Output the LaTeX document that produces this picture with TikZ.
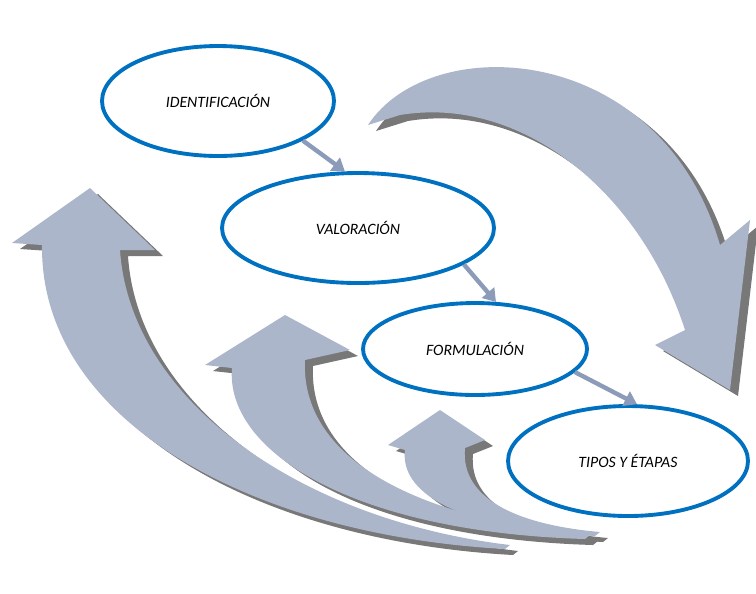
\documentclass[tikz,border=0pt]{standalone}
\usepackage{fontspec}
\setmainfont{Carlito}
\usetikzlibrary{arrows.meta,shapes.geometric}
\definecolor{ringblue}{RGB}{0,112,192}
\definecolor{arrowfill}{RGB}{172,182,202}
\definecolor{shadowgray}{RGB}{120,120,120}
\definecolor{linkblue}{RGB}{140,155,185}
\tikzset{
  stage/.style={ellipse, draw=ringblue, line width=2.2pt, fill=white, font=\itshape\small},
  bigarrow/.style={fill=arrowfill},
  bigshadow/.style={fill=shadowgray},
  link/.style={draw=linkblue, line width=2.5pt, -{Triangle[length=7pt,width=9pt]}}
}
\begin{document}
\begin{tikzpicture}[x=0.02cm,y=-0.02cm]
\useasboundingbox (0,0) rectangle (756,593);
% curved arrows (shadow first, then fill)
\foreach \sty/\dx/\dy in {bigshadow/8/6, bigarrow/0/0}{
  \begin{scope}[shift={(\dx,\dy)}]
  \fill[\sty] (90,188) -- (155,250) -- (120,250)
    .. controls (130,400) and (300,520) .. (510,545)
    -- (505,549) .. controls (250,535) and (40,420) .. (42,245)
    -- (12,243) -- cycle;
  \fill[\sty] (285,315) -- (350,350) -- (305,360)
    .. controls (300,460) and (420,520) .. (590,535)
    -- (585,539) .. controls (350,532) and (225,450) .. (232,368)
    -- (205,365) -- cycle;
  \fill[\sty] (440,410) -- (485,440) -- (465,448)
    .. controls (460,500) and (520,525) .. (600,532)
    -- (595,536) .. controls (450,528) and (400,490) .. (405,450)
    -- (388,445) -- cycle;
  \fill[\sty] (368,125) .. controls (430,30) and (660,40) .. (720,245)
    -- (750,220) -- (730,390) -- (655,345) -- (685,330)
    .. controls (640,190) and (520,95) .. (400,115) -- cycle;
  \end{scope}
}
% stages
\node[stage, minimum width=4.64cm, minimum height=2.2cm] (ident) at (218,101) {IDENTIFICACIÓN};
\node[stage, minimum width=5.44cm, minimum height=2.2cm] (valor) at (358,228) {VALORACIÓN};
\node[stage, minimum width=4.48cm, minimum height=1.84cm] (formu) at (475,349) {FORMULACIÓN};
\node[stage, minimum width=4.8cm, minimum height=2.2cm] (tipos) at (628,461) {TIPOS Y ÉTAPAS};
% links
\draw[link] (ident.-25) -- (valor.103);
\draw[link] (valor.-19) -- (formu.66);
\draw[link] (formu.-13) -- (tipos.81);
\end{tikzpicture}
\end{document}
